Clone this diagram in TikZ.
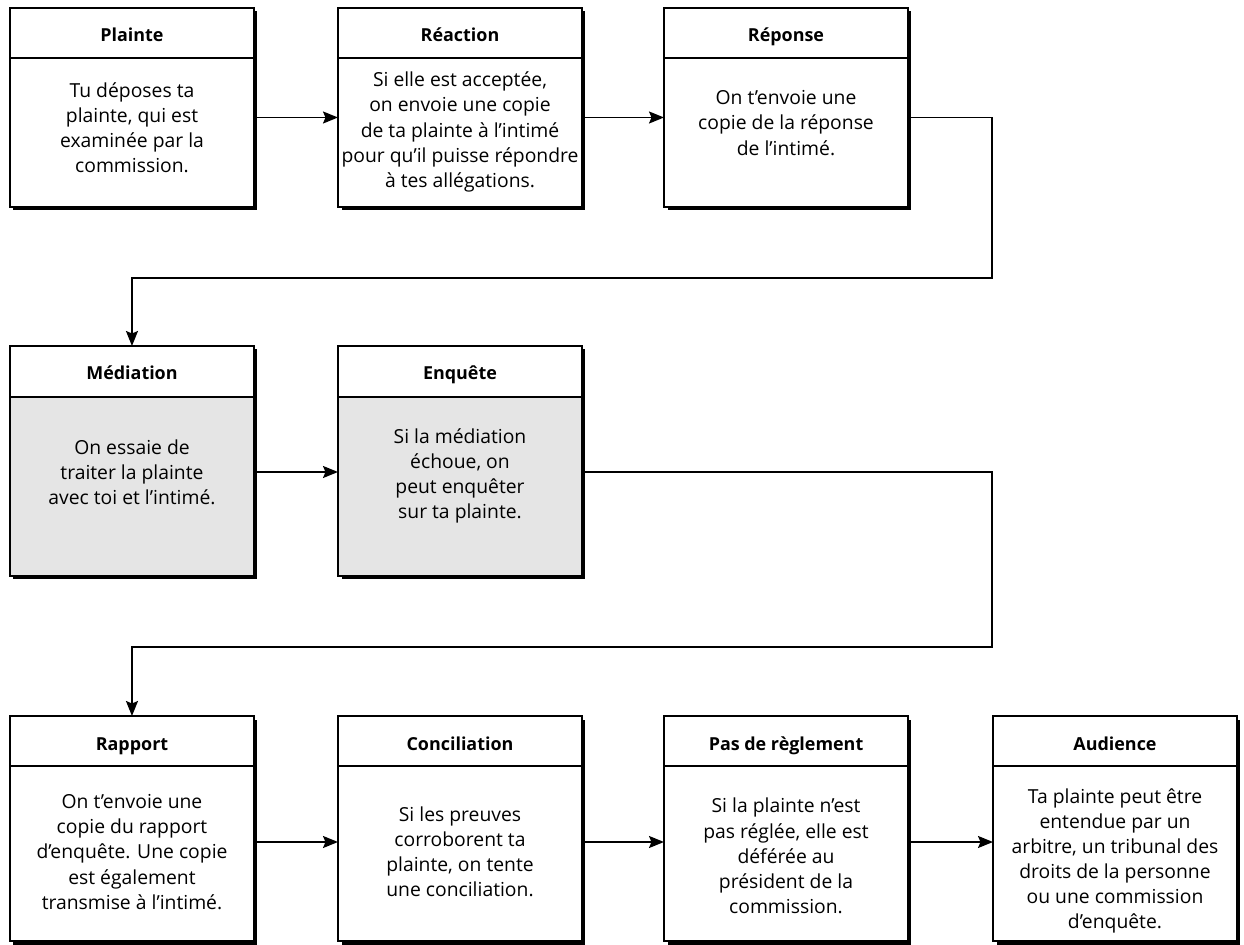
\documentclass[tikz,border=0pt]{standalone}
\usepackage{fontspec}
\setmainfont{Open Sans}
\usetikzlibrary{shadows,arrows.meta,calc}
\definecolor{graybody}{gray}{0.9}
\tikzset{
  boxframe/.style={fill=white, inner sep=0pt, outer sep=0pt, minimum width=4.88cm, anchor=north west,
    drop shadow={shadow xshift=0.07cm, shadow yshift=-0.07cm, fill=black, opacity=1}},
  outline/.style={draw=black, line width=1pt},
  hdr/.style={font=\fontsize{10.2}{13}\selectfont\bfseries, inner sep=0pt, anchor=base},
  bodytxt/.style={font=\fontsize{11}{14.3}\selectfont, align=center, inner sep=0pt},
  arr/.style={line width=1pt, -{Stealth[length=0.3cm, width=0.24cm, inset=0.05cm]}},
}
% #1 name, #2 left x, #3 top y, #4 divider y, #5 bottom y, #6 body fill, #7 title, #8 body text, #9 body centre y
\newcommand\flowbox[9]{%
  \node[boxframe, minimum height={(#5-#3)*0.02cm}] (#1) at (#2,#3) {};
  \fill[#6] (#2,#4) rectangle (#2+244,#5);
  \draw[outline] (#1.north west) rectangle (#1.south east);
  \draw[outline] (#2,#4) -- (#2+244,#4);
  \node[hdr] (#1-title) at ({#2+122},{#3+34}) {#7};
  \node[bodytxt] (#1-text) at ({#2+122},#9) {#8};
}
\begin{document}
\begin{tikzpicture}[x=0.02cm, y=-0.02cm]
\useasboundingbox[fill=white] (0,0) rectangle (1244,945);

% row 1
\flowbox{plainte}{10}{8}{58}{207}{white}{Plainte}{Tu déposes ta\\plainte, qui est\\examinée par la\\commission.}{128}
\flowbox{reaction}{338}{8}{58}{207}{white}{Réaction}{Si elle est acceptée,\\on envoie une copie\\de ta plainte à l’intimé\\pour qu’il puisse répondre\\à tes allégations.}{132}
\flowbox{reponse}{664}{8}{58}{207}{white}{Réponse}{On t’envoie une\\copie de la réponse\\de l’intimé.}{123}

% row 2
\flowbox{mediation}{10}{346}{397}{576}{graybody}{Médiation}{On essaie de\\traiter la plainte\\avec toi et l’intimé.}{472}
\flowbox{enquete}{338}{346}{397}{576}{graybody}{Enquête}{Si la médiation\\échoue, on\\peut enquêter\\sur ta plainte.}{476}

% row 3
\flowbox{rapport}{10}{716}{766}{941}{white}{Rapport}{On t’envoie une\\copie du rapport\\d’enquête. Une copie\\est également\\transmise à l’intimé.}{852}
\flowbox{conciliation}{338}{716}{766}{941}{white}{Conciliation}{Si les preuves\\corroborent ta\\plainte, on tente\\une conciliation.}{852}
\flowbox{reglement}{664}{716}{766}{941}{white}{Pas de règlement}{Si la plainte n’est\\pas réglée, elle est\\déférée au\\président de la\\commission.}{856}
\flowbox{audience}{993}{716}{766}{941}{white}{Audience}{Ta plainte peut être\\entendue par un\\arbitre, un tribunal des\\droits de la personne\\ou une commission\\d’enquête.}{861}

% turning points
\coordinate (turn1) at (992,278);
\coordinate (turn2) at (992,647);

% connectors
\draw[arr] ([yshift=-0.2cm]plainte.east) -- ([yshift=-0.2cm]reaction.west);
\draw[arr] ([yshift=-0.2cm]reaction.east) -- ([yshift=-0.2cm]reponse.west);
\draw[arr] ([yshift=-0.2cm]reponse.east) -| (turn1) -| (mediation.north);
\draw[arr] ([yshift=-0.22cm]mediation.east) -- ([yshift=-0.22cm]enquete.west);
\draw[arr] ([yshift=-0.22cm]enquete.east) -| (turn2) -| (rapport.north);
\draw[arr] ([yshift=-0.27cm]rapport.east) -- ([yshift=-0.27cm]conciliation.west);
\draw[arr] ([yshift=-0.27cm]conciliation.east) -- ([yshift=-0.27cm]reglement.west);
\draw[arr] ([yshift=-0.27cm]reglement.east) -- ([yshift=-0.27cm]audience.west);
\end{tikzpicture}
\end{document}
